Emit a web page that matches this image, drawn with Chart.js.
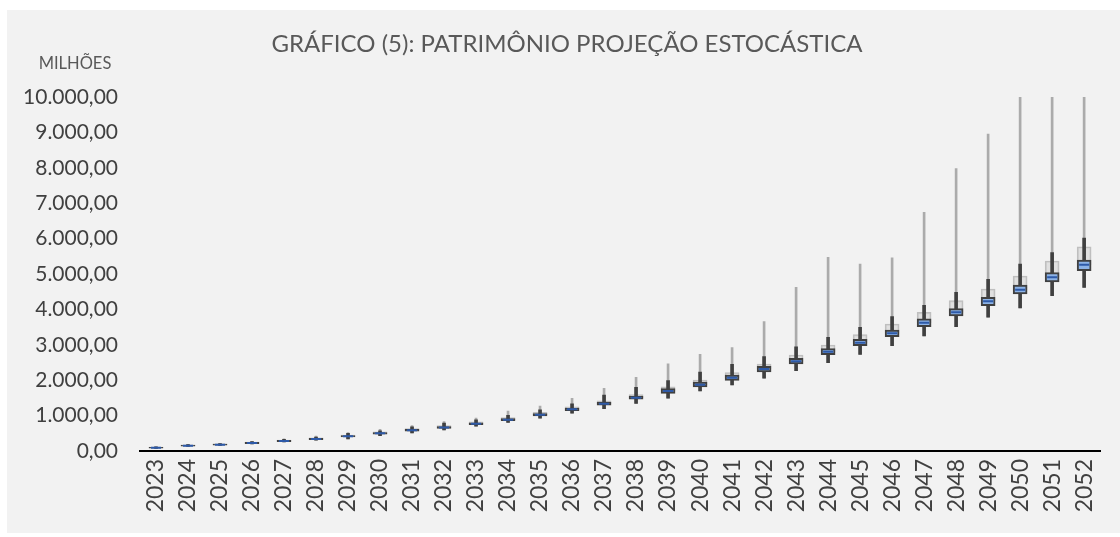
<!DOCTYPE html>
<html>
<head>
<meta charset="utf-8">
<script src="https://cdn.jsdelivr.net/npm/chart.js@4.4.1/dist/chart.umd.min.js"></script>
<style>
    body { margin: 0; background: #fff; }
    #panel { position: absolute; left: 7px; top: 10px; width: 1113px; height: 523px; background: #f2f2f2; }
    #wrap { position: absolute; left: 0; top: 0; width: 1120px; height: 537px; }
</style>
</head>
<body>
<div id="panel"></div>
<div id="wrap"><canvas id="boxChart" width="1120" height="537"></canvas></div>
<script>
// anos da projeção
const years = ['2023', '2024', '2025', '2026', '2027', '2028', '2029', '2030', '2031', '2032',
    '2033', '2034', '2035', '2036', '2037', '2038', '2039', '2040', '2041', '2042',
    '2043', '2044', '2045', '2046', '2047', '2048', '2049', '2050', '2051', '2052'];

// valores em milhões
const whiskerLow = [75, 130, 155, 200, 255, 305, 339, 432, 508, 593, 700, 805, 930, 1070, 1195, 1347, 1489, 1695, 1864, 2054,
    2269, 2495, 2731, 2975, 3249, 3512, 3777, 4040, 4387, 4624];
const q1 = [80, 136, 163, 210, 265, 320, 395, 478, 561, 638, 743, 854, 992, 1141, 1298, 1464, 1630, 1808, 1997, 2232,
    2458, 2721, 2975, 3230, 3512, 3814, 4105, 4435, 4774, 5093];
const median = [93, 150, 178, 226, 282, 339, 415, 500, 585, 664, 771, 884, 1025, 1177, 1336, 1506, 1695, 1874, 2071, 2316,
    2534, 2806, 3060, 3324, 3625, 3918, 4229, 4557, 4907, 5263];
const q3 = [106, 164, 193, 242, 299, 358, 435, 522, 609, 690, 799, 914, 1058, 1213, 1374, 1548, 1760, 1949, 2147, 2392,
    2618, 2891, 3155, 3418, 3737, 4020, 4341, 4689, 5037, 5395];
const upperBox = [110, 170, 200, 250, 310, 370, 450, 540, 630, 715, 825, 945, 1090, 1250, 1415, 1595, 1810, 2006, 2212, 2458,
    2712, 2994, 3287, 3588, 3918, 4246, 4576, 4944, 5367, 5771];
const whiskerHigh = [115, 178, 212, 265, 330, 395, 500, 573, 686, 791, 880, 1010, 1160, 1330, 1582, 1799, 1986, 2232, 2449, 2664,
    2946, 3212, 3494, 3795, 4116, 4483, 4850, 5282, 5602, 6017];
const maxValue = [120, 185, 220, 275, 345, 420, 520, 610, 720, 830, 932, 1130, 1271, 1489, 1771, 2082, 2460, 2731, 2919, 3653,
    4624, 5471, 5282, 5460, 6743, 7975, 8955, 10000, 10000, 10000];

const yTicks = [0, 1000, 2000, 3000, 4000, 5000, 6000, 7000, 8000, 9000, 10000];

function pairs(lo, hi) {
    return lo.map((v, i) => [v, hi[i]]);
}

// formato brasileiro 10.000,00
function fmtBR(v) {
    let s = Math.round(v).toString().replace(/\B(?=(\d{3})+(?!\d))/g, '.');
    return s + ',00';
}

// título e unidade desenhados à mão
const textPlugin = {
    id: 'texts',
    afterDraw(chart) {
        const ctx = chart.ctx;
        ctx.save();
        ctx.fillStyle = '#595959';
        ctx.textBaseline = 'middle';
        ctx.textAlign = 'center';
        ctx.font = '24px Lato';
        ctx.fillText('GRÁFICO (5): PATRIMÔNIO PROJEÇÃO ESTOCÁSTICA', 567, 44);
        ctx.font = '16.5px Lato';
        ctx.fillText('MILHÕES', 75, 64);
        ctx.restore();
    }
};

const barBase = {
    type: 'bar',
    grouped: false,
    borderSkipped: false
};

new Chart(document.getElementById('boxChart').getContext('2d'), {
    data: {
        labels: years,
        datasets: [
            {
                type: 'line',
                data: median,
                showLine: false,
                pointStyle: 'line',
                pointRadius: 5,
                pointBorderWidth: 2,
                pointBorderColor: '#2e5aa8',
                order: 0
            },
            Object.assign({}, barBase, {
                data: pairs(q1, q3),
                barThickness: 14,
                backgroundColor: '#8db3e6',
                borderColor: '#404040',
                borderWidth: 2,
                order: 1
            }),
            Object.assign({}, barBase, {
                data: pairs(whiskerLow, whiskerHigh),
                barThickness: 3,
                backgroundColor: '#404040',
                borderWidth: 0,
                order: 2
            }),
            Object.assign({}, barBase, {
                data: pairs(median, upperBox),
                barThickness: 14,
                backgroundColor: 'rgba(217,217,217,0.75)',
                borderColor: '#bfbfbf',
                borderWidth: 1.5,
                order: 3
            }),
            Object.assign({}, barBase, {
                data: pairs(whiskerLow, maxValue),
                barThickness: 2,
                backgroundColor: '#ababab',
                borderWidth: 0,
                order: 4
            })
        ]
    },
    options: {
        responsive: false,
        animation: false,
        layout: { padding: { top: 97, right: 16, left: 0, bottom: 0 } },
        plugins: {
            legend: { display: false },
            tooltip: { enabled: false },
            title: { display: false }
        },
        scales: {
            x: {
                offset: true,
                grid: { display: false, drawTicks: false },
                border: { display: true, color: '#000', width: 2 },
                ticks: {
                    minRotation: 90,
                    maxRotation: 90,
                    padding: 8,
                    color: '#404040',
                    font: { family: 'Lato', size: 23 }
                },
                afterFit(scale) { scale.height = 86; }
            },
            y: {
                min: 0,
                max: 10000,
                afterBuildTicks(scale) { scale.ticks = yTicks.map(v => ({ value: v })); },
                grid: { display: false, drawTicks: false },
                border: { display: false },
                ticks: {
                    padding: 22,
                    color: '#404040',
                    font: { family: 'Lato', size: 21 },
                    callback: v => fmtBR(v)
                },
                afterFit(scale) { scale.width = 140; }
            }
        }
    },
    plugins: [textPlugin]
});
</script>
</body>
</html>
